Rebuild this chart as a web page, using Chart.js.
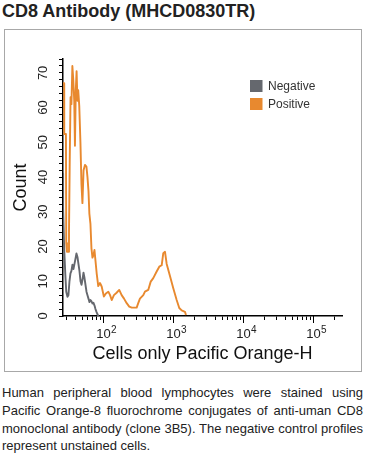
<!DOCTYPE html>
<html>
<head>
<meta charset="utf-8">
<script src="https://cdn.jsdelivr.net/npm/chart.js@4.4.0/dist/chart.umd.min.js"></script>
<style>
  body { margin: 0; background: #fff; width: 365px; height: 456px; position: relative; overflow: hidden; }
  h1 { position: absolute; left: 2px; top: 1px; margin: 0; font: bold 18px/20px Arial, "Liberation Sans", sans-serif; color: #222; }
  #box { position: absolute; left: 4px; top: 29px; width: 356px; height: 341px; border: 1px solid #a8a8a8; }
  #box canvas { display: block; }
  p { position: absolute; left: 2px; top: 384px; width: 361px; margin: 0; font: 13px/17.8px Arial, "Liberation Sans", sans-serif; color: #222; text-align: justify; }
</style>
</head>
<body>
<h1>CD8 Antibody (MHCD0830TR)</h1>
<div id="box"><canvas id="histo" width="356" height="341"></canvas></div>
<p>Human peripheral blood lymphocytes were stained using Pacific Orange-8 fluorochrome conjugates of anti-uman CD8 monoclonal antibody (clone 3B5). The negative control profiles represent unstained cells.</p>
<script>
// series (x = fluorescence channel, y = count)
const negX = [26.6, 26.7, 27.7, 28.7, 29.6, 30.8, 31.8, 32.9, 34.0, 35.1, 36.3, 37.5, 38.8, 40.1, 41.4, 42.8, 44.2, 45.7, 47.3, 48.9, 50.5, 52.2, 53.9, 55.7, 57.6, 59.5, 61.5, 63.6, 65.7, 67.9, 70.2, 72.5, 75.0, 77.4, 80.0, 82.7, 84.9];
const negY = [41, 31, 19, 12, 7, 5.5, 6, 10, 12.3, 13, 14.8, 13.5, 15, 16.5, 18, 17, 15, 13, 10, 9, 10.5, 12.5, 11, 9, 7, 6, 5, 4, 4.6, 4.2, 3.6, 3.8, 3, 2, 1.2, 0.5, 0];

const posX = [26.6, 27.7, 27.7, 29.3, 29.6, 30.3, 31.6, 32.4, 33.2, 34.1, 35.1, 36.2, 37.3, 38.5, 39.4, 40.5, 41.6, 42.8, 43.9, 45.4, 47.2, 48.8, 50.4, 52.3, 54.8, 57.5, 59.5, 61.5, 63.3, 65.6, 67.8, 70.1, 72.4, 74.9, 76.9, 80.5, 84.8, 89.7, 94.9, 102, 109, 118, 125, 132, 142, 155, 169, 183, 198, 216, 235, 255, 300, 316, 334, 373, 394, 439, 476, 518, 579, 631, 683, 720, 761, 805, 897, 1000, 1118, 1218, 1318, 1469, 1519];
const posY = [67, 67, 52.4, 52.4, 21, 18.5, 18.5, 24, 45, 63, 61, 72, 68, 62, 49, 65, 70.5, 62, 65, 60.5, 50, 38, 32.5, 42, 43.5, 43, 40, 36, 29.5, 26.5, 19.5, 16.8, 17.5, 19, 16.5, 12.3, 8.6, 9.5, 8.5, 5.6, 6.5, 7, 6, 4.6, 6, 6.7, 7.5, 6, 5, 3.7, 2.7, 2.4, 2.4, 3.7, 5, 6, 7, 7.5, 9.9, 10.9, 12.8, 14.2, 14.6, 18.1, 18.5, 15, 11.5, 8, 4.6, 2.3, 1.6, 1.2, 0.3];

const xMajorTicks = [100, 1000, 10000, 100000];
const yLabelStep = 10;

const FONT = 'Arial, "Liberation Sans", sans-serif';

function pts(xs, ys) {
  return xs.map((x, i) => ({x: x, y: ys[i]}));
}

// legend box drawn in the top right of the plot, plus 10^n tick labels
const extras = {
  id: 'extras',
  afterDraw(chart) {
    const ctx = chart.ctx;
    const area = chart.chartArea;
    const xs = chart.scales.x;
    ctx.save();

    // legend
    ctx.font = '12px ' + FONT;
    ctx.textBaseline = 'middle';
    ctx.textAlign = 'left';
    chart.data.datasets.forEach((ds, i) => {
      const lx = area.right - 92;
      const ly = area.top + 21 + i * 18;
      ctx.fillStyle = ds.borderColor;
      ctx.fillRect(lx, ly, 12.5, 12);
      ctx.fillStyle = '#333';
      ctx.fillText(ds.label, lx + 18, ly + 6.5);
    });

    // longer major ticks + labels
    ctx.strokeStyle = '#000';
    ctx.lineWidth = 1;
    xMajorTicks.forEach((v) => {
      const px = Math.round(xs.getPixelForValue(v)) + 0.5;
      ctx.beginPath();
      ctx.moveTo(px, xs.top);
      ctx.lineTo(px, xs.top + 7);
      ctx.stroke();

      ctx.fillStyle = '#222';
      ctx.font = '13px ' + FONT;
      ctx.textAlign = 'center';
      ctx.textBaseline = 'alphabetic';
      ctx.fillText('10', px, xs.top + 21.5);
      const w = ctx.measureText('10').width;
      ctx.font = '10px ' + FONT;
      ctx.textAlign = 'left';
      ctx.fillText(String(Math.round(Math.log10(v))), px + w / 2 + 0.3, xs.top + 17);
    });
    ctx.restore();
  }
};

const ctx = document.getElementById('histo').getContext('2d');
const config = {
  type: 'line',
  data: {
    datasets: [{
      label: 'Negative',
      data: pts(negX, negY),
      borderColor: '#65686e',
      borderWidth: 1.9,
      borderJoinStyle: 'round',
      pointRadius: 0,
      fill: false,
      tension: 0
    }, {
      label: 'Positive',
      data: pts(posX, posY),
      borderColor: '#e8892f',
      borderWidth: 1.9,
      borderJoinStyle: 'round',
      pointRadius: 0,
      fill: false,
      tension: 0
    }]
  },
  options: {
    responsive: false,
    animation: false,
    devicePixelRatio: 1,
    layout: { padding: { left: 0, top: 29, right: 19, bottom: 0 } },
    plugins: {
      legend: { display: false },
      tooltip: { enabled: false }
    },
    scales: {
      x: {
        type: 'logarithmic',
        min: 26.6,
        max: 257000,
        afterBuildTicks: (scale) => {
          const t = [];
          for (let e = 1; e <= 5; e++) {
            for (let m = 1; m <= 9; m++) {
              const v = m * Math.pow(10, e);
              if (v >= scale.min && v <= scale.max) t.push({value: v, major: m === 1});
            }
          }
          scale.ticks = t;
        },
        afterFit: (scale) => { scale.height = 55; },
        grid: { drawOnChartArea: false, drawTicks: true, tickLength: 4, tickColor: '#000', tickWidth: 1 },
        border: { display: true, color: '#000', width: 1.5 },
        ticks: { display: false },
        title: {
          display: true,
          text: 'Cells only Pacific Orange-H',
          color: '#111',
          font: { family: FONT, size: 18 },
          padding: { top: 0, bottom: 6 }
        }
      },
      y: {
        min: 0,
        max: 74,
        afterFit: (scale) => { scale.width = 58; },
        grid: { drawOnChartArea: false, drawTicks: true, tickLength: 4, tickColor: '#000', tickWidth: 1 },
        border: { display: true, color: '#000', width: 1.5 },
        ticks: {
          stepSize: 2,
          autoSkip: false,
          minRotation: 90,
          maxRotation: 90,
          crossAlign: 'center',
          padding: 8,
          color: '#222',
          font: { family: FONT, size: 13 },
          callback: (v) => (v % yLabelStep === 0 ? String(v) : '')
        },
        title: {
          display: true,
          text: 'Count',
          color: '#111',
          font: { family: FONT, size: 18 },
          padding: { top: 5, bottom: 0 }
        }
      }
    }
  },
  plugins: [extras]
};

const histoChart = new Chart(ctx, config);
</script>
</body>
</html>
